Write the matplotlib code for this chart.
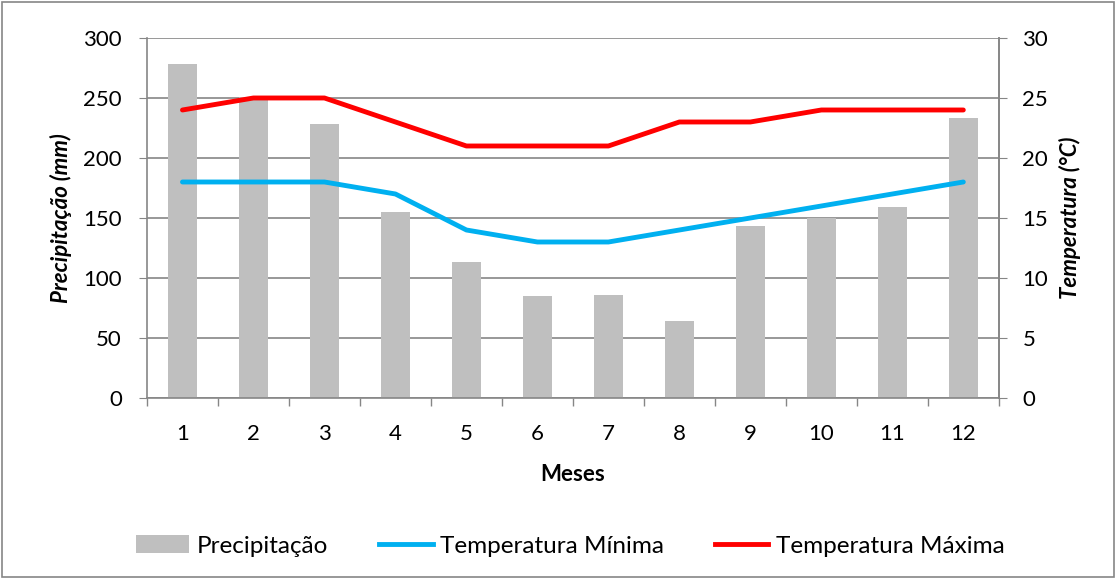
import matplotlib
matplotlib.use("Agg")
import matplotlib.pyplot as plt
from matplotlib.patches import Rectangle, Patch
from matplotlib.lines import Line2D
import numpy as np

plt.rcParams['font.family'] = ['Lato', 'DejaVu Sans']

months = [1, 2, 3, 4, 5, 6, 7, 8, 9, 10, 11, 12]
precip = [278, 251, 228, 155, 113, 85, 86, 64, 143, 150, 159, 233]
tmin = [18, 18, 18, 17, 14, 13, 13, 14, 15, 16, 17, 18]
tmax = [24, 25, 25, 23, 21, 21, 21, 23, 23, 24, 24, 24]

FS = 16
fig = plt.figure(figsize=(11.16, 5.79), dpi=100)
ax = fig.add_axes([0.1317, 0.3126, 0.7633, 0.6218])
ax2 = ax.twinx()

grid_c = '#868686'
x = np.arange(len(months))
ax.bar(x, precip, width=0.41, color='#BFBFBF', zorder=2, label='Precipitação')
ax.set_ylim(0, 300)
ax.set_yticks(np.arange(0, 301, 50))
ax.set_xlim(-0.5, len(months) - 0.5)
ax.set_xticks(x)
ax.set_xticklabels([str(m) for m in months])
ax.set_xticks(np.arange(-0.5, len(months), 1), minor=True)
ax.tick_params(axis='x', which='major', length=0, labelsize=FS, pad=19, colors='black')
ax.tick_params(axis='x', which='minor', length=6, color=grid_c, width=1, direction='out')
ax.tick_params(axis='y', labelsize=FS, length=6, color=grid_c, pad=12)
ax.yaxis.grid(True, color=grid_c, linewidth=1.2, zorder=0)
ax.set_axisbelow(True)
ax.spines['top'].set_visible(False)
for s in ['left', 'bottom', 'right']:
    ax.spines[s].set_color(grid_c)
    ax.spines[s].set_linewidth(1.2)

l1, = ax2.plot(x, tmin, color='#00B0F0', linewidth=3.5, solid_capstyle='round', zorder=3)
l2, = ax2.plot(x, tmax, color='#FF0000', linewidth=3.5, solid_capstyle='round', zorder=3)
ax2.set_ylim(0, 30)
ax2.set_yticks(np.arange(0, 31, 5))
ax2.tick_params(axis='y', labelsize=FS, length=6, color=grid_c, pad=11)
for s in ['top', 'left', 'bottom']:
    ax2.spines[s].set_visible(False)
ax2.spines['right'].set_color(grid_c)
ax2.spines['right'].set_linewidth(1.2)

ax.set_ylabel('Precipitação (mm)', fontsize=FS, fontweight='bold', style='italic', labelpad=8)
ax2.set_ylabel('Temperatura (°C)', fontsize=FS, fontweight='bold', style='italic', labelpad=8)
ax.set_xlabel('Meses', fontsize=FS, fontweight='bold', labelpad=14)

handles = [Patch(facecolor='#BFBFBF', edgecolor='none'),
           Line2D([0], [0], color='#00B0F0', linewidth=3.5),
           Line2D([0], [0], color='#FF0000', linewidth=3.5)]
fig.legend(handles, ['Precipitação', 'Temperatura Mínima', 'Temperatura Máxima'],
           loc='center', bbox_to_anchor=(0.511, 0.057), ncol=3, frameon=False,
           fontsize=17.5, handlelength=2.2, handletextpad=0.3, columnspacing=2.1)

fig.patches.append(Rectangle((0.002, 0.004), 0.996, 0.992, transform=fig.transFigure,
                             fill=False, edgecolor='#868686', linewidth=1.2))

fig.savefig('out.png', dpi=100)
